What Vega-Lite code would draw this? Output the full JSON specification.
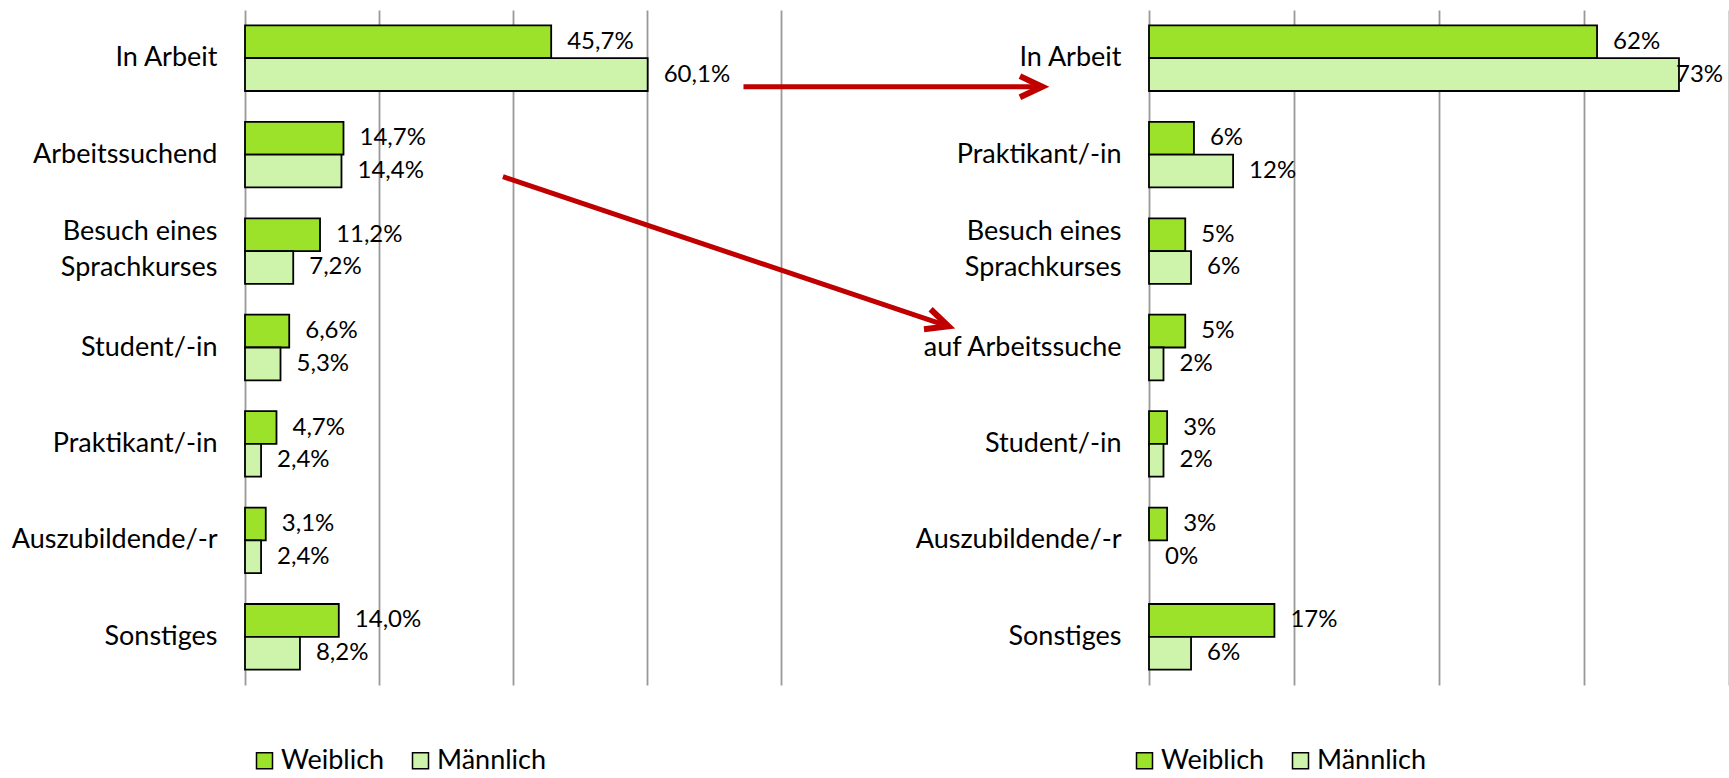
{
  "$schema": "https://vega.github.io/schema/vega-lite/v6.json",
  "autosize": {"type": "pad"},
  "padding": {"left": 11, "top": 10, "right": 0, "bottom": 0},
  "bounds": "flush",
  "spacing": 368,
  "config": {
    "view": {"stroke": null},
    "font": "Lato",
    "axis": {"labelFont": "Lato", "labelColor": "#000000"},
    "legend": {"labelFont": "Lato", "labelColor": "#000000"}
  },
  "datasets": {
    "links": [
      {"kategorie": "In Arbeit", "geschlecht": "Weiblich", "wert": 0.457, "label": "45,7%"},
      {"kategorie": "In Arbeit", "geschlecht": "Männlich", "wert": 0.601, "label": "60,1%"},
      {"kategorie": "Arbeitssuchend", "geschlecht": "Weiblich", "wert": 0.147, "label": "14,7%"},
      {"kategorie": "Arbeitssuchend", "geschlecht": "Männlich", "wert": 0.144, "label": "14,4%"},
      {"kategorie": "Besuch eines Sprachkurses", "geschlecht": "Weiblich", "wert": 0.112, "label": "11,2%"},
      {"kategorie": "Besuch eines Sprachkurses", "geschlecht": "Männlich", "wert": 0.072, "label": "7,2%"},
      {"kategorie": "Student/-in", "geschlecht": "Weiblich", "wert": 0.066, "label": "6,6%"},
      {"kategorie": "Student/-in", "geschlecht": "Männlich", "wert": 0.053, "label": "5,3%"},
      {"kategorie": "Praktikant/-in", "geschlecht": "Weiblich", "wert": 0.047, "label": "4,7%"},
      {"kategorie": "Praktikant/-in", "geschlecht": "Männlich", "wert": 0.024, "label": "2,4%"},
      {"kategorie": "Auszubildende/-r", "geschlecht": "Weiblich", "wert": 0.031, "label": "3,1%"},
      {"kategorie": "Auszubildende/-r", "geschlecht": "Männlich", "wert": 0.024, "label": "2,4%"},
      {"kategorie": "Sonstiges", "geschlecht": "Weiblich", "wert": 0.140, "label": "14,0%"},
      {"kategorie": "Sonstiges", "geschlecht": "Männlich", "wert": 0.082, "label": "8,2%"}
    ],
    "rechts": [
      {"kategorie": "In Arbeit", "geschlecht": "Weiblich", "wert": 0.618, "label": "62%"},
      {"kategorie": "In Arbeit", "geschlecht": "Männlich", "wert": 0.731, "label": "73%"},
      {"kategorie": "Praktikant/-in", "geschlecht": "Weiblich", "wert": 0.062, "label": "6%"},
      {"kategorie": "Praktikant/-in", "geschlecht": "Männlich", "wert": 0.116, "label": "12%"},
      {"kategorie": "Besuch eines Sprachkurses", "geschlecht": "Weiblich", "wert": 0.05, "label": "5%"},
      {"kategorie": "Besuch eines Sprachkurses", "geschlecht": "Männlich", "wert": 0.058, "label": "6%"},
      {"kategorie": "auf Arbeitssuche", "geschlecht": "Weiblich", "wert": 0.05, "label": "5%"},
      {"kategorie": "auf Arbeitssuche", "geschlecht": "Männlich", "wert": 0.02, "label": "2%"},
      {"kategorie": "Student/-in", "geschlecht": "Weiblich", "wert": 0.025, "label": "3%"},
      {"kategorie": "Student/-in", "geschlecht": "Männlich", "wert": 0.02, "label": "2%"},
      {"kategorie": "Auszubildende/-r", "geschlecht": "Weiblich", "wert": 0.025, "label": "3%"},
      {"kategorie": "Auszubildende/-r", "geschlecht": "Männlich", "wert": 0.0, "label": "0%"},
      {"kategorie": "Sonstiges", "geschlecht": "Weiblich", "wert": 0.173, "label": "17%"},
      {"kategorie": "Sonstiges", "geschlecht": "Männlich", "wert": 0.058, "label": "6%"}
    ],
    "pfeile": [
      {"pfeil": "A", "x": 0.744, "y": 0.795, "x2": 1.19, "y2": 0.795},
      {"pfeil": "B", "x": 0.385, "y": 1.729, "x2": 1.05, "y2": 3.28}
    ]
  },
  "hconcat": [
    {
      "width": 536,
      "height": 675,
      "layer": [
        {
          "data": {"name": "links"},
          "encoding": {
            "y": {
              "field": "kategorie", "type": "nominal",
              "sort": ["In Arbeit", "Arbeitssuchend", "Besuch eines Sprachkurses", "Student/-in", "Praktikant/-in", "Auszubildende/-r", "Sonstiges"],
              "scale": {"paddingInner": 0.32, "paddingOuter": 0.16},
              "axis": {
                "title": null, "domain": false, "ticks": false, "labelPadding": 28,
                "labelFontSize": 27, "labelLimit": 400, "labelLineHeight": 36,
                "labelOffset": {"condition": {"test": "datum.value == 'Besuch eines Sprachkurses'", "value": -19}, "value": 0},
                "labelExpr": "datum.value == 'Besuch eines Sprachkurses' ? ['Besuch eines', 'Sprachkurses'] : datum.label"
              }
            },
            "yOffset": {"field": "geschlecht", "type": "nominal", "sort": ["Weiblich", "Männlich"], "scale": {"paddingInner": 0, "paddingOuter": 0}},
            "x": {
              "field": "wert", "type": "quantitative",
              "scale": {"domain": [0, 0.8], "nice": false},
              "axis": {"title": null, "labels": false, "ticks": false, "domain": false, "grid": true, "values": [0, 0.2, 0.4, 0.6, 0.8], "gridColor": "#999999", "gridWidth": 1.8}
            }
          },
          "layer": [
            {
              "transform": [{"filter": "datum.wert > 0"}],
              "mark": {"type": "bar", "stroke": "#000000", "strokeWidth": 1.8},
              "encoding": {
                "color": {
                  "field": "geschlecht", "type": "nominal",
                  "scale": {"domain": ["Weiblich", "Männlich"], "range": ["#9CE22A", "#CEF3AA"]},
                  "legend": {
                    "orient": "none", "legendX": 6, "legendY": 737, "direction": "horizontal", "title": null,
                    "symbolType": "square", "symbolSize": 256, "symbolStrokeColor": "#000000", "symbolStrokeWidth": 1.5,
                    "labelFontSize": 27, "labelOffset": 3, "columnPadding": 22, "padding": 0, "symbolOpacity": 1
                  }
                }
              }
            },
            {
              "mark": {"type": "text", "align": "left", "baseline": "middle", "dx": 16, "fontSize": 24, "color": "#000000"},
              "encoding": {"text": {"field": "label"}}
            }
          ]
        },
        {
          "data": {"name": "pfeile"},
          "encoding": {
            "x": {
              "field": "x", "type": "quantitative", "scale": {"domain": [0, 0.8], "nice": false},
              "axis": {"title": null, "labels": false, "ticks": false, "domain": false, "grid": true, "values": [0, 0.2, 0.4, 0.6, 0.8], "gridColor": "#999999", "gridWidth": 1.8}
            },
            "y": {"field": "y", "type": "quantitative", "scale": {"domain": [0, 7], "nice": false, "zero": false, "reverse": true}, "axis": null}
          },
          "layer": [
            {
              "mark": {"type": "rule", "color": "#C00000", "strokeWidth": 5},
              "encoding": {"x2": {"field": "x2"}, "y2": {"field": "y2"}}
            },
            {
              "transform": [{"filter": "datum.pfeil == 'A'"}],
              "mark": {"type": "point", "shape": "M-1,-0.47L0,0L-1,0.47", "size": 2000, "filled": false, "stroke": "#C00000", "strokeWidth": 6, "opacity": 1, "angle": 0},
              "encoding": {"x": {"field": "x2", "type": "quantitative"}, "y": {"field": "y2", "type": "quantitative"}}
            },
            {
              "transform": [{"filter": "datum.pfeil == 'B'"}],
              "mark": {"type": "point", "shape": "M-1,-0.47L0,0L-1,0.47", "size": 2000, "filled": false, "stroke": "#C00000", "strokeWidth": 6, "opacity": 1, "angle": 18.5},
              "encoding": {"x": {"field": "x2", "type": "quantitative"}, "y": {"field": "y2", "type": "quantitative"}}
            }
          ]
        }
      ],
      "resolve": {"scale": {"y": "independent"}}
    },
    {
      "width": 580,
      "height": 675,
      "data": {"name": "rechts"},
      "encoding": {
        "y": {
          "field": "kategorie", "type": "nominal",
          "sort": ["In Arbeit", "Praktikant/-in", "Besuch eines Sprachkurses", "auf Arbeitssuche", "Student/-in", "Auszubildende/-r", "Sonstiges"],
          "scale": {"paddingInner": 0.32, "paddingOuter": 0.16},
          "axis": {
            "title": null, "domain": false, "ticks": false, "labelPadding": 28,
            "labelFontSize": 27, "labelLimit": 400, "labelLineHeight": 36,
            "labelOffset": {"condition": {"test": "datum.value == 'Besuch eines Sprachkurses'", "value": -19}, "value": 0},
            "labelExpr": "datum.value == 'Besuch eines Sprachkurses' ? ['Besuch eines', 'Sprachkurses'] : datum.label"
          }
        },
        "yOffset": {"field": "geschlecht", "type": "nominal", "sort": ["Weiblich", "Männlich"], "scale": {"paddingInner": 0, "paddingOuter": 0}},
        "x": {
          "field": "wert", "type": "quantitative",
          "scale": {"domain": [0, 0.8], "nice": false},
          "axis": {"title": null, "labels": false, "ticks": false, "domain": false, "grid": true, "values": [0, 0.2, 0.4, 0.6, 0.8], "gridColor": "#999999", "gridWidth": 1.8}
        }
      },
      "layer": [
        {
          "transform": [{"filter": "datum.wert > 0"}],
          "mark": {"type": "bar", "stroke": "#000000", "strokeWidth": 1.8},
          "encoding": {
            "color": {
              "field": "geschlecht", "type": "nominal",
              "scale": {"domain": ["Weiblich", "Männlich"], "range": ["#9CE22A", "#CEF3AA"]},
              "legend": {
                "orient": "none", "legendX": -18, "legendY": 737, "direction": "horizontal", "title": null,
                "symbolType": "square", "symbolSize": 256, "symbolStrokeColor": "#000000", "symbolStrokeWidth": 1.5,
                "labelFontSize": 27, "labelOffset": 3, "columnPadding": 22, "padding": 0, "symbolOpacity": 1
              }
            }
          }
        },
        {
          "transform": [{"filter": "datum.wert < 0.7"}],
          "mark": {"type": "text", "align": "left", "baseline": "middle", "dx": 16, "fontSize": 24, "color": "#000000"},
          "encoding": {"text": {"field": "label"}}
        },
        {
          "transform": [{"filter": "datum.wert >= 0.7"}],
          "mark": {"type": "text", "align": "left", "baseline": "middle", "dx": -3, "fontSize": 24, "color": "#000000"},
          "encoding": {"text": {"field": "label"}}
        }
      ]
    }
  ],
  "resolve": {"scale": {"color": "independent"}, "legend": {"color": "independent"}}
}
